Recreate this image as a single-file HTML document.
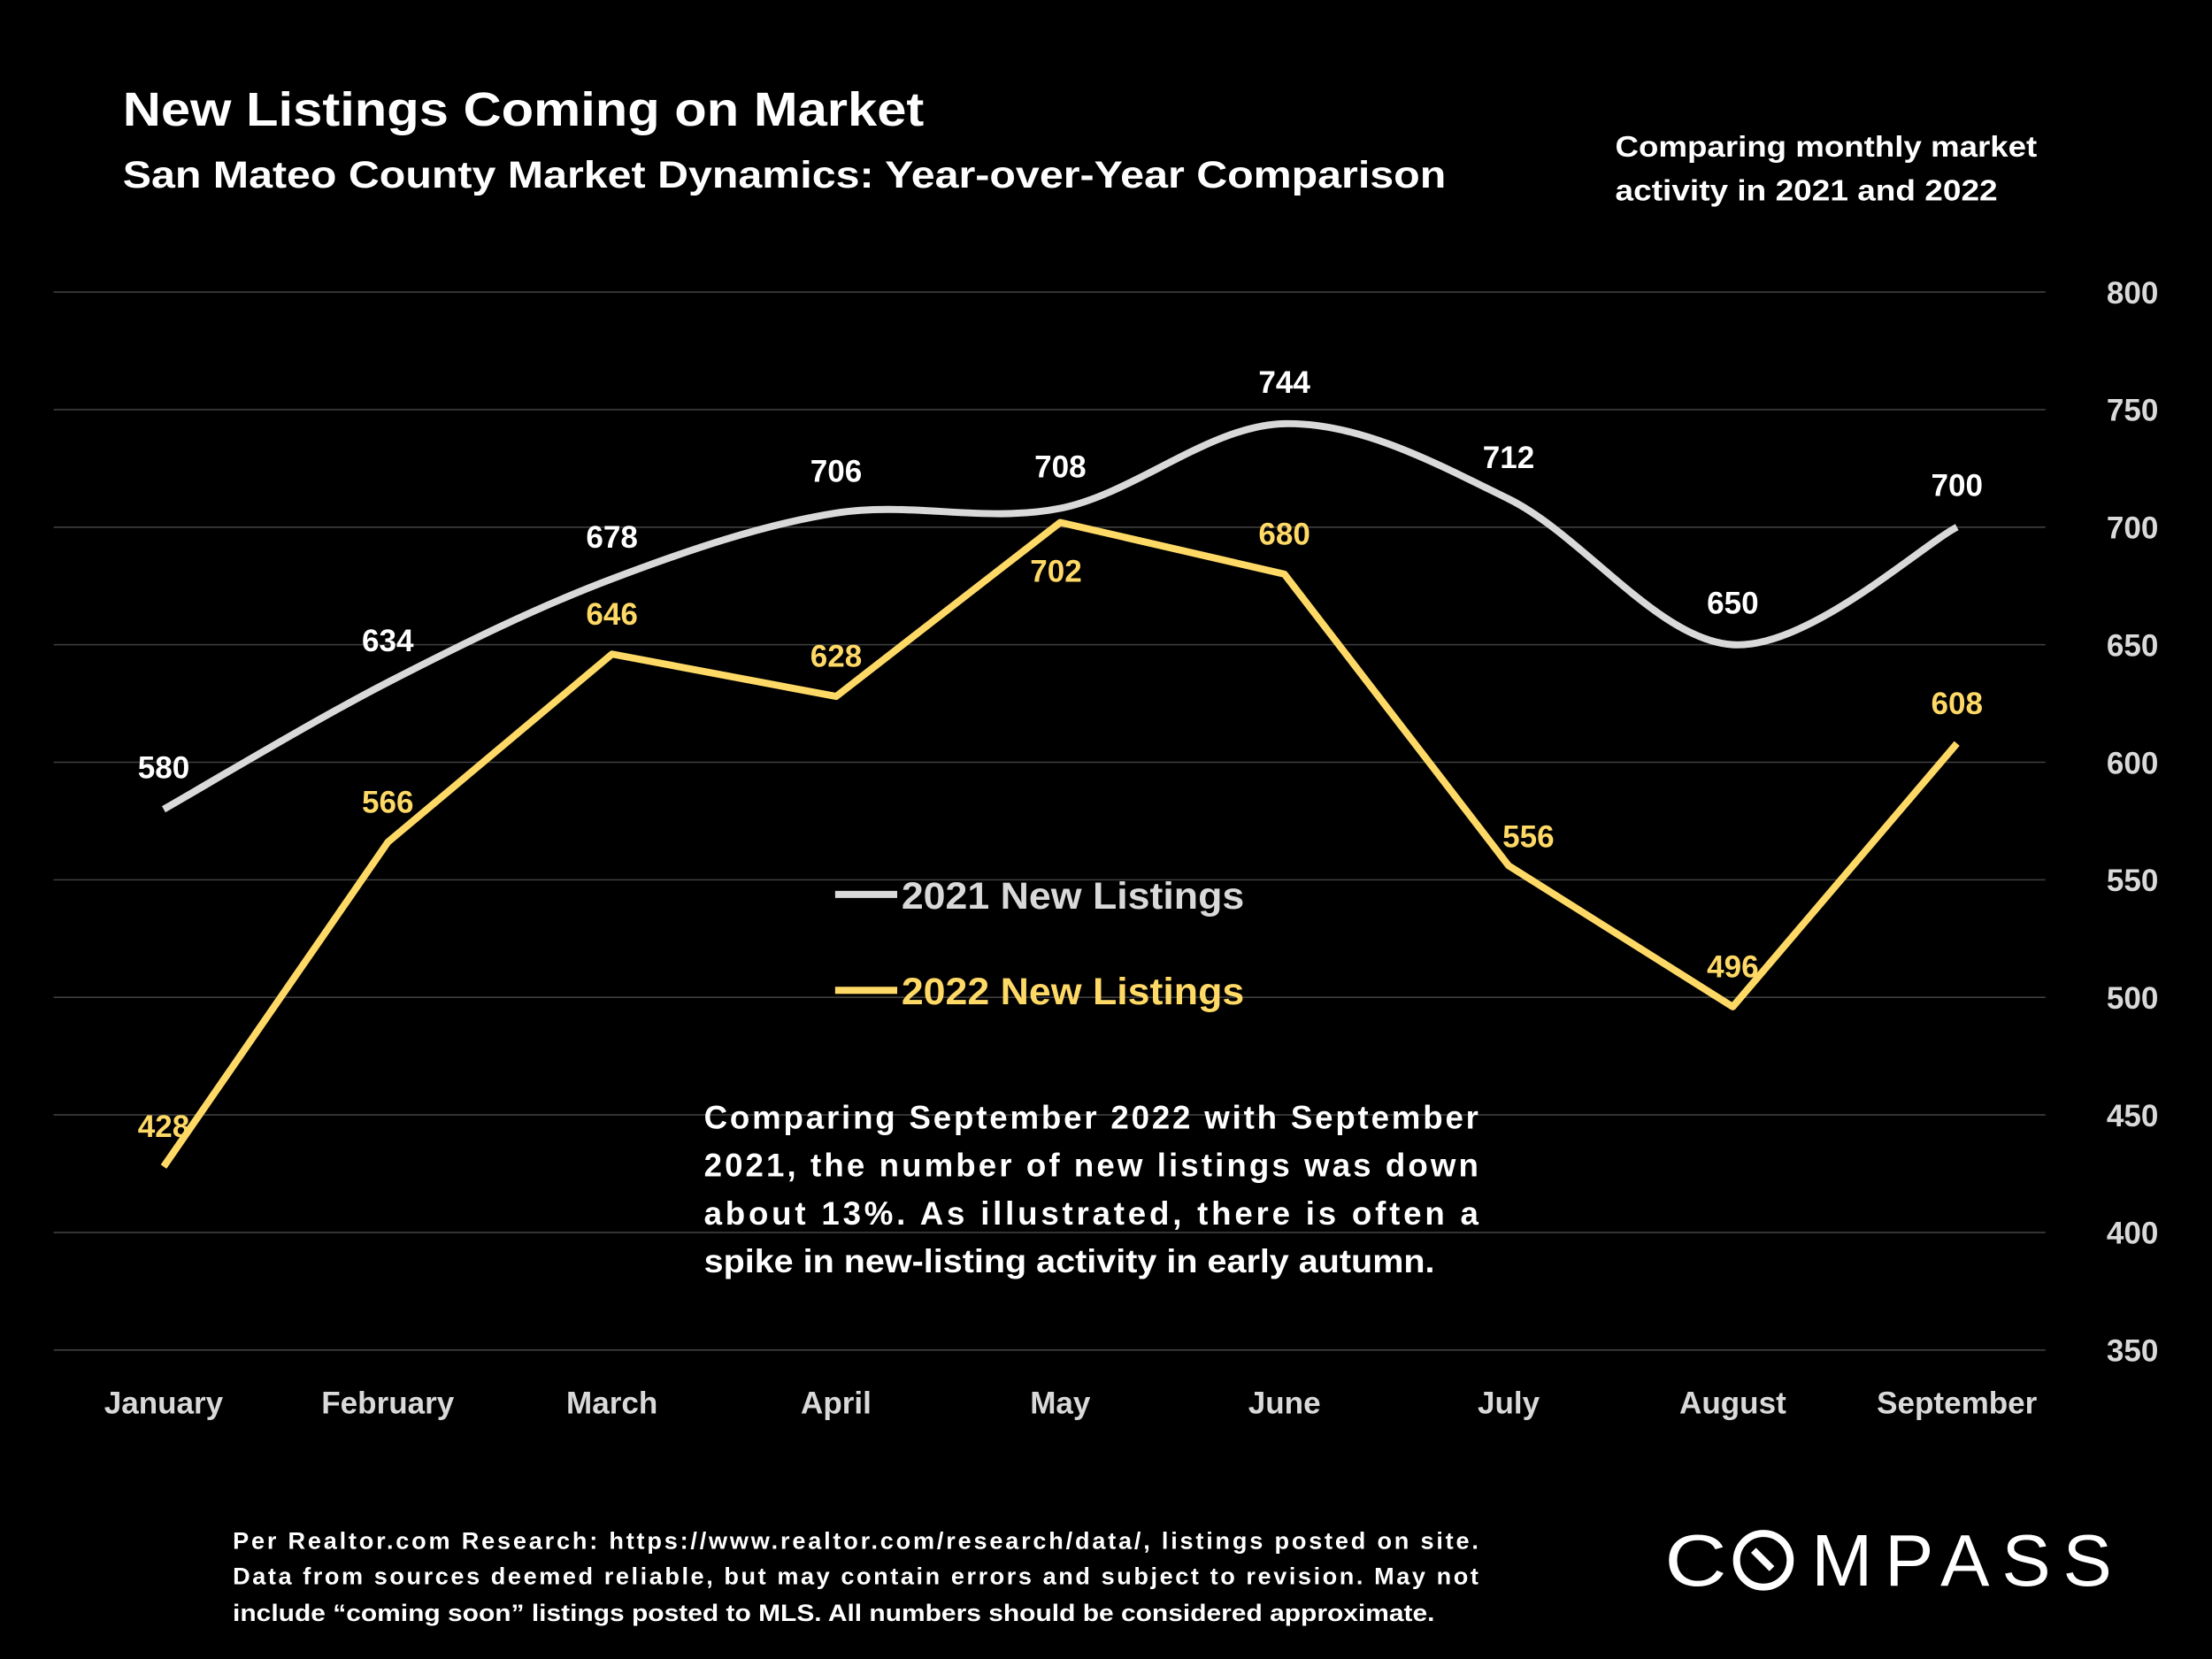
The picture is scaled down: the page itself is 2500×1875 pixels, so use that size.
<!DOCTYPE html>
<html><head><meta charset="utf-8"><style>
html,body{margin:0;padding:0;background:#000;}
svg{display:block;}
text{font-family:"Liberation Sans",sans-serif;font-weight:bold;}
</style></head><body>
<svg id="chart" width="2500" height="1875" viewBox="0 0 1568 1176" preserveAspectRatio="none" xmlns="http://www.w3.org/2000/svg">
<rect width="1568" height="1176" fill="#000"/>
<text x="87" y="89" fill="#fff" font-size="34" textLength="568" lengthAdjust="spacingAndGlyphs">New Listings Coming on Market</text>
<text x="87" y="133" fill="#fff" font-size="27" textLength="938" lengthAdjust="spacingAndGlyphs">San Mateo County Market Dynamics: Year-over-Year Comparison</text>
<text fill="#fff" font-size="21"><tspan x="1145" y="111" textLength="299" lengthAdjust="spacingAndGlyphs">Comparing monthly market</tspan><tspan x="1145" y="142" textLength="271" lengthAdjust="spacingAndGlyphs">activity in 2021 and 2022</tspan></text>
<g id="grid"></g><g id="yticks"></g><g id="xticks"></g><g id="series"></g><g id="labels"></g>
<g>
<line x1="592" y1="634" x2="636" y2="634" stroke="#d9d9d9" stroke-width="5"/>
<text x="639" y="644" fill="#d9d9d9" font-size="27" textLength="243" lengthAdjust="spacingAndGlyphs">2021 New Listings</text>
<line x1="592" y1="702" x2="636" y2="702" stroke="#ffd966" stroke-width="5"/>
<text x="639" y="712" fill="#ffd966" font-size="27" textLength="243" lengthAdjust="spacingAndGlyphs">2022 New Listings</text>
</g>
<text fill="#fff" font-size="23">
<tspan x="499" y="800" textLength="549" lengthAdjust="spacing">Comparing September 2022 with September</tspan>
<tspan x="499" y="834" textLength="549" lengthAdjust="spacing">2021, the number of new listings was down</tspan>
<tspan x="499" y="868" textLength="549" lengthAdjust="spacing">about 13%. As illustrated, there is often a</tspan>
<tspan x="499" y="902" textLength="518" lengthAdjust="spacingAndGlyphs">spike in new-listing activity in early autumn.</tspan>
</text>
<text fill="#fff" font-size="17">
<tspan x="165" y="1098" textLength="883" lengthAdjust="spacing">Per Realtor.com Research:  https://www.realtor.com/research/data/, listings posted on site.</tspan>
<tspan x="165" y="1123" textLength="883" lengthAdjust="spacing">Data from sources deemed reliable, but may contain errors and subject to revision. May not</tspan>
<tspan x="165" y="1149" textLength="852" lengthAdjust="spacingAndGlyphs">include “coming soon” listings posted to MLS. All numbers should be considered approximate.</tspan>
</text>
<g>
<text x="1180" y="1124" fill="#fff" font-size="52" style="font-weight:normal" textLength="44" lengthAdjust="spacingAndGlyphs">C</text>
<circle cx="1250" cy="1106" r="19" fill="none" stroke="#fff" stroke-width="5"/>
<line x1="1243" y1="1099" x2="1256" y2="1112" stroke="#fff" stroke-width="5"/>
<text x="1284" y="1124" fill="#fff" font-size="52" style="font-weight:normal" textLength="213" lengthAdjust="spacing">MPASS</text>
</g>
</svg>
<script>
const months=["January","February","March","April","May","June","July","August","September"];
const s2021=[580,634,678,706,708,744,712,650,700];
const s2022=[428,566,646,628,702,680,556,496,608];
const yTicks=[350,400,450,500,550,600,650,700,750,800];
const NS="http://www.w3.org/2000/svg";
const xS=i=>116+i*158.9;
const yS=v=>957-(v-350)*(750/450);
function mk(t,a,p){const e=document.createElementNS(NS,t);for(const k in a)e.setAttribute(k,a[k]);document.getElementById(p).appendChild(e);return e;}
yTicks.forEach(v=>{
 const l=mk('line',{x1:38,x2:1450,y1:yS(v),y2:yS(v),stroke:'#3f3f3f','stroke-width':1},'grid');
 
 
 const t=mk('text',{x:1530,y:yS(v)+8,fill:'#d9d9d9','font-size':22,'text-anchor':'end'},'yticks');
 t.textContent=v;
 
 
});
months.forEach((m,i)=>{
 const t=mk('text',{x:xS(i),y:1002,fill:'#d9d9d9','font-size':22,'text-anchor':'middle'},'xticks');
 t.textContent=m;
 
 
});
const p=s2021.map((v,i)=>[xS(i),yS(v)]);
let d=`M${p[0][0]},${p[0][1]}`;
for(let i=0;i<p.length-1;i++){
 const p0=p[Math.max(i-1,0)],p1=p[i],p2=p[i+1],p3=p[Math.min(i+2,p.length-1)];
 const c1=[p1[0]+(p2[0]-p0[0])/6,p1[1]+(p2[1]-p0[1])/6],c2=[p2[0]-(p3[0]-p1[0])/6,p2[1]-(p3[1]-p1[1])/6];
 d+=` C${c1[0]},${c1[1]} ${c2[0]},${c2[1]} ${p2[0]},${p2[1]}`;
}
const l1=mk('path',{d:d,fill:'none',stroke:'#d9d9d9','stroke-width':5},'series');


const l2=mk('polyline',{points:s2022.map((v,i)=>xS(i)+','+yS(v)).join(' '),fill:'none',stroke:'#ffd966','stroke-width':5,'stroke-linejoin':'round'},'series');


s2021.forEach((v,i)=>{
 const t=mk('text',{x:xS(i),y:yS(v)-22,fill:'#fff','font-size':22,'text-anchor':'middle'},'labels');
 t.textContent=v;
 
 
});
s2022.forEach((v,i)=>{
 const below=(i===4);
 let y=below?yS(v)+42:yS(v)-21;
 if(i===6) y=yS(v)-13;
 const t=mk('text',{x:xS(i)+(i===4?-3:(i===6?14:0)),y:y,fill:'#ffd966','font-size':22,'text-anchor':'middle'},'labels');
 t.textContent=v;
 
 
});
</script>
</body></html>
